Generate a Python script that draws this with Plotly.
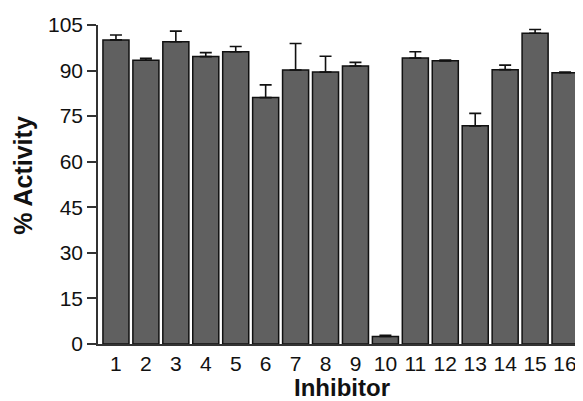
import plotly.graph_objects as go

inhibitors = [str(i) for i in range(1, 17)]
activity = [100.1, 93.4, 99.5, 94.6, 96.2, 81.1, 90.2, 89.5, 91.5, 2.5, 94.1, 93.2, 71.8, 90.3, 102.3, 89.3]
error_up = [1.6, 0.6, 3.5, 1.3, 1.7, 4.2, 8.7, 5.2, 1.2, 0.35, 2.1, 0.3, 4.1, 1.5, 1.2, 0.2]
yticks = [0, 15, 30, 45, 60, 75, 90, 105]

fig = go.Figure(go.Bar(
    x=list(range(1, 17)),
    y=activity,
    marker=dict(color="#606060", line=dict(color="#111111", width=1.5)),
    error_y=dict(type="data", symmetric=False, array=error_up,
                 arrayminus=[0] * 16, color="#111111", thickness=1.6, width=6),
))

font = "Liberation Sans, Arial, Helvetica, sans-serif"
fig.update_layout(
    width=575, height=393,
    margin=dict(l=90, r=0, t=17, b=57),
    paper_bgcolor="white", plot_bgcolor="white",
    bargap=0.13,
    showlegend=False,
    font=dict(family=font, size=21, color="#111111"),
    annotations=[
        dict(text="<b>% Activity</b>", textangle=-90, xref="paper", yref="paper",
             x=-0.155, y=0.53, xanchor="center", yanchor="middle",
             showarrow=False, font=dict(size=25)),
        dict(text="<b>Inhibitor</b>", xref="paper", yref="paper",
             x=0.503, y=-0.135, xanchor="center", yanchor="middle",
             showarrow=False, font=dict(size=24)),
    ],
)
fig.update_xaxes(
    range=[0.4, 16.6],
    tickmode="array", tickvals=list(range(1, 17)), ticktext=inhibitors,
    showline=True, linecolor="#333333", linewidth=1.5,
    ticks="", showgrid=False, zeroline=False,
    tickfont=dict(size=21), ticklabelstandoff=0,
)
fig.update_yaxes(
    range=[0, 105],
    tickmode="array", tickvals=yticks,
    showline=True, linecolor="#333333", linewidth=1.5,
    ticks="outside", ticklen=9, tickwidth=1.5, tickcolor="#333333",
    showgrid=False, zeroline=False,
    tickfont=dict(size=21),
)

fig.write_html("out.html")
